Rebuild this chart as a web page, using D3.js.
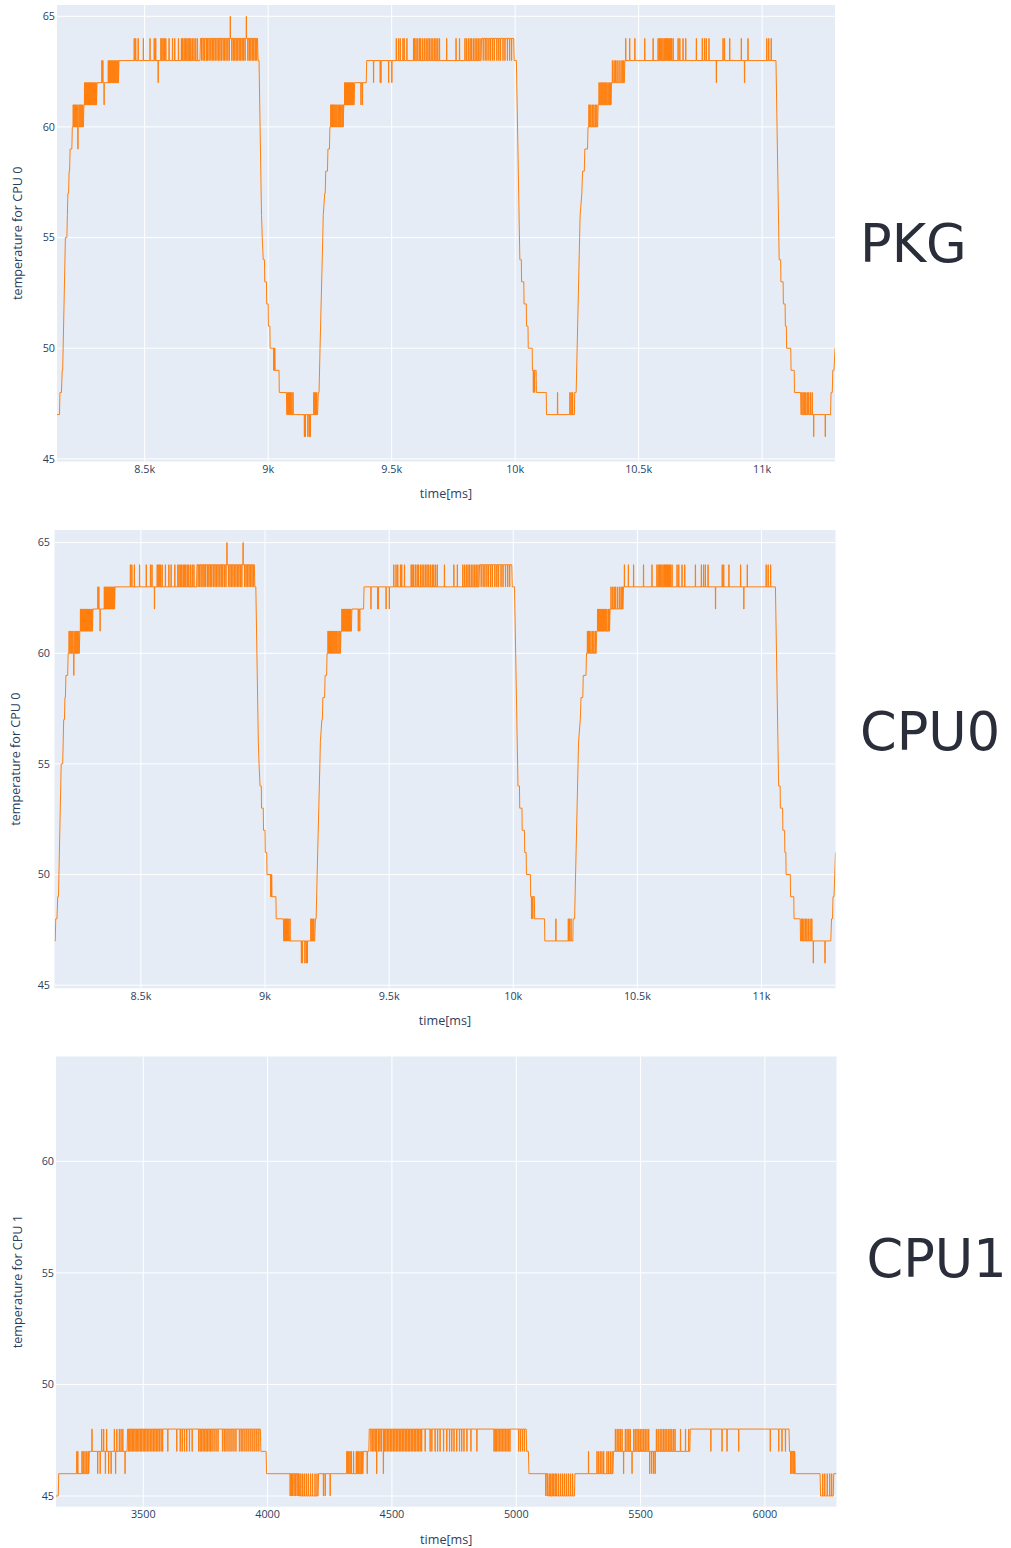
<!DOCTYPE html>
<html>
<head>
<meta charset="utf-8">
<script src="https://cdn.jsdelivr.net/npm/d3@7"></script>
<style>
  body { margin: 0; background: #fff; }
  svg { display: block; }
</style>
</head>
<body>
<div id="chart"></div>
<script>
/* Daten: Stufen der Grundlinie [Zeit ms, Temperatur], dazu kurze Ausreisser (+1 / -1) */

var pkgBase = [[8145,47],[8155,47],[8157,48],[8163,48],[8166,49],[8168,49],[8179,55],[8185,55],[8187,56],[8189,57],[8192,57],[8194,58],[8196,58],[8198,59],[8205,59],[8207,60],[8252,60],[8254,61],[8305,61],[8307,62],[8394,62],[8396,63],[8724,63],[8726,64],[8957,64],[8959,63],[8963,63],[8973,56],[8976,55],[8980,54],[8985,54],[8986,53],[8993,53],[8994,52],[9000,52],[9001,51],[9007,51],[9008,50],[9027,50],[9028,49],[9044,49],[9045,48],[9074,48],[9075,47],[9200,47],[9203,48],[9206,48],[9210,50],[9221,55],[9223,56],[9229,57],[9231,57],[9233,58],[9240,58],[9242,59],[9248,59],[9250,60],[9304,60],[9306,61],[9348,61],[9350,62],[9397,62],[9399,63],[9862,63],[9864,64],[9994,64],[9996,63],[10005,63],[10019,54],[10025,54],[10026,53],[10035,53],[10036,52],[10045,52],[10046,51],[10052,51],[10053,50],[10069,50],[10070,49],[10085,49],[10086,48],[10126,48],[10127,47],[10240,47],[10241,48],[10247,48],[10261,55],[10263,56],[10270,57],[10273,58],[10280,58],[10282,59],[10293,59],[10295,60],[10334,60],[10336,61],[10388,61],[10390,62],[10442,62],[10444,63],[11056,63],[11069,54],[11075,54],[11076,53],[11085,53],[11086,52],[11093,52],[11094,51],[11098,51],[11099,50],[11116,50],[11117,49],[11130,49],[11131,48],[11156,48],[11157,47],[11277,47],[11279,48],[11284,48],[11286,49],[11291,49],[11295,50]];

var cpu0Base = [[8152,47],[8155,47],[8157,48],[8162,48],[8165,49],[8168,49],[8179,55],[8185,55],[8187,56],[8189,57],[8192,57],[8194,58],[8196,58],[8198,59],[8205,59],[8207,60],[8252,60],[8254,61],[8305,61],[8307,62],[8394,62],[8396,63],[8724,63],[8726,64],[8957,64],[8959,63],[8963,63],[8973,56],[8976,55],[8980,54],[8985,54],[8986,53],[8993,53],[8994,52],[9000,52],[9001,51],[9007,51],[9008,50],[9027,50],[9028,49],[9044,49],[9045,48],[9074,48],[9075,47],[9200,47],[9203,48],[9206,48],[9210,50],[9221,55],[9223,56],[9229,57],[9231,57],[9233,58],[9240,58],[9242,59],[9248,59],[9250,60],[9304,60],[9306,61],[9348,61],[9350,62],[9397,62],[9399,63],[9862,63],[9864,64],[9994,64],[9996,63],[10005,63],[10019,54],[10025,54],[10026,53],[10035,53],[10036,52],[10045,52],[10046,51],[10052,51],[10053,50],[10069,50],[10070,49],[10085,49],[10086,48],[10126,48],[10127,47],[10240,47],[10241,48],[10247,48],[10261,55],[10263,56],[10270,57],[10273,58],[10280,58],[10282,59],[10293,59],[10295,60],[10334,60],[10336,61],[10388,61],[10390,62],[10442,62],[10444,63],[11056,63],[11069,54],[11075,54],[11076,53],[11085,53],[11086,52],[11093,52],[11094,51],[11098,51],[11099,50],[11116,50],[11117,49],[11130,49],[11131,48],[11156,48],[11157,47],[11279,47],[11282,48],[11286,48],[11288,49],[11292,49],[11298,51]];

var pkgUps = [8210,8214,8218,8222,8226,8233,8237,8241,8245,8249,
  8256,8259,8262,8265,8268,8271,8274,8277,8280,8283,8286,8289,8292,8296,8300,8303,
  8326,8330,8352,8356,8360,8364,8368,8372,8376,8380,8384,8388,8392,
  8457,8463,8473,8494,8521,8538,8544,8565,8569,8574,8579,8585,8598,8612,8621,8636,8648,8653,8659,8664,8670,8675,8680,8686,8692,8699,8706,8713,
  8846,8911,
  9078,9082,9086,9090,9095,9100,9184,9188,9192,9196,
  9253,9256,9259,9262,9266,9270,9274,9278,9283,9288,9293,9298,9302,
  9309,9312,9315,9318,9321,9324,9327,9330,9333,9336,9339,9342,9345,
  9518,9527,9534,9545,9550,9561,9588,9592,9598,9605,9612,9617,9625,9632,9639,9646,9652,9659,9666,9673,9679,9686,9693,9722,9760,9774,9796,9803,9810,9817,9823,9830,9837,9844,9850,9857,
  10171,10221,10226,10232,
  10298,10302,10306,10312,10318,10324,10330,
  10339,10343,10347,10351,10355,10359,10363,10367,10371,10376,10382,10386,
  10393,10400,10406,10412,10420,10428,10434,10439,
  10447,10463,10484,10524,10558,10578,10583,10588,10593,10598,10603,10608,10612,10616,10620,10625,10629,10633,10639,10659,10666,10679,10690,10733,10757,10766,10773,10784,10841,10847,10868,10915,10942,11018,11026,11036,
  11160,11165,11170,11176,11182,11188,11195,11202];

var pkgDowns = [8229,8335,8554,
  8730,8736,8742,8749,8754,8760,8767,8773,8779,8785,8792,8798,8804,8810,8817,8823,8829,8836,8842,8852,8858,8864,8870,8876,8882,8888,8894,8900,8906,8917,8923,8929,8935,8941,8947,8953,
  9022,9025,9146,9150,9160,9166,9170,9375,9381,9426,9453,9456,9487,9500,
  9870,9878,9885,9893,9900,9908,9915,9925,9933,9940,9950,9958,9968,9977,9985,
  10073,10078,10814,10928,11208,11255];

var cpu1Base = [[3149,45],[3158,45],[3160,46],[3281,46],[3283,47],[3435,47],[3437,48],[3971,48],[3973,47],[3994,47],[3996,46],[4127,46],[4128,45],[4203,45],[4205,46],[4383,46],[4385,47],[4407,47],[4409,48],[5040,48],[5042,47],[5049,47],[5051,46],[5126,46],[5128,45],[5234,45],[5236,46],[5389,46],[5391,47],[5698,47],[5700,48],[6097,48],[6099,47],[6120,47],[6122,46],[6222,46],[6224,45],[6275,45],[6277,46],[6288,46]];

var cpu1Ups = [3232,3236,3253,3258,3265,3272,3278,
  3293,3332,3340,3352,3383,3393,3403,3410,3417,
  4133,4140,4147,4155,4163,4172,4180,4190,4198,
  4318,4322,4326,4331,4336,4345,4356,4361,4366,4371,4376,4381,
  5132,5138,5144,5150,5156,5162,5170,5178,5186,5194,5202,5210,5218,5226,
  5290,5324,5330,5337,5344,5351,5364,5371,5378,5385,
  5398,5405,5412,5418,5425,5438,5445,5452,5458,5472,5478,5485,5492,5498,5505,5512,5518,5525,5532,5563,5570,5578,5585,5592,5598,5605,5612,5618,5625,5632,5638,5660,5680,5693,
  6232,6240,6250,6260,6268];

var cpu1Downs = [3316,3326,3347,3360,3370,3388,3426,
  3440,3445,3450,3455,3460,3466,3471,3477,3482,3488,3493,3499,3505,3510,3516,3522,3528,3534,3540,3546,3552,3558,3564,3571,3577,
  3598,3634,3648,3656,3665,3674,3685,3696,
  3722,3728,3734,3740,3746,3752,3758,3764,3770,3776,3784,3792,3800,3818,3825,3832,3840,3848,3856,3864,3872,3886,3893,3900,3908,3916,3924,3932,3940,3948,3956,3964,
  4090,4095,4100,4106,4112,4118,4124,4224,4231,4251,4400,
  4415,4421,4427,4433,4445,4451,4457,4469,4475,4481,4487,4493,4499,4505,4511,4517,4523,4529,4535,4541,4547,4553,4559,4565,4571,4577,4583,4589,4595,4601,4607,4613,4619,
  4633,4653,4660,4673,4683,4693,4707,4720,4731,4740,4749,4760,4771,4780,4789,4801,4817,4841,
  4910,4915,4920,4926,4932,4938,4944,4950,4956,4962,4968,4974,5009,5016,5024,5032,
  5118,5124,5431,5465,5536,5544,5552,5558,
  5782,5827,5847,5894,6021,6055,6068,6082,6103,6108,6113,6118];

var cpu1Odd = [[4438,46],[4465,46]];

var kTicks = [8500, 9000, 9500, 10000, 10500, 11000];
var msTicks = [3500, 4000, 4500, 5000, 5500, 6000];
var tempTicks = [45, 50, 55, 60, 65];

/* Serie aus Grundlinie und Ausreissern zusammensetzen */
function buildSeries(base, ups, downs, odd) {
  var lvl = d3.scaleLinear().domain(base.map(function(d){return d[0];})).range(base.map(function(d){return d[1];}));
  var pts = base.map(function(d){return [d[0], d[1]];});
  function spike(t, v) {
    var b = lvl(t);
    pts.push([t, b], [t + 0.3, v], [t + 1.2, v], [t + 1.5, b]);
  }
  ups.forEach(function(t){ spike(t, Math.round(lvl(t)) + 1); });
  downs.forEach(function(t){ spike(t, Math.round(lvl(t)) - 1); });
  odd.forEach(function(d){ spike(d[0], d[1]); });
  return pts.sort(function(a, b){ return a[0] - b[0]; });
}

var panels = [
  {name: "PKG", data: buildSeries(pkgBase, pkgUps, pkgDowns, []), xDomain: [8145, 11295], yDomain: [44.88, 65.51],
   xTicks: kTicks, fmt: d3.format("~s"), ytitle: "temperature for CPU 0",
   l: 57, r: 835, t: 5, b: 461.5, labelX: 55, ytitleX: 18, titleX: 860, titleY: 261.5},
  {name: "CPU0", data: buildSeries(cpu0Base, pkgUps, pkgDowns, []), xDomain: [8152, 11298], yDomain: [44.86, 65.57],
   xTicks: kTicks, fmt: d3.format("~s"), ytitle: "temperature for CPU 0",
   l: 54.5, r: 835.5, t: 530, b: 988.3, labelX: 50, ytitleX: 16, titleX: 860, titleY: 750},
  {name: "CPU1", data: buildSeries(cpu1Base, cpu1Ups, cpu1Downs, cpu1Odd), xDomain: [3149, 6288], yDomain: [44.52, 64.7],
   xTicks: msTicks, fmt: d3.format("d"), ytitle: "temperature for CPU 1",
   l: 56, r: 836.5, t: 1056.5, b: 1506.7, labelX: 54, ytitleX: 17.5, titleX: 866.5, titleY: 1277}
];

var svg = d3.select("#chart").append("svg").attr("width", 1011).attr("height", 1548);
svg.append("rect").attr("width", 1011).attr("height", 1548).attr("fill", "white");

var tickColor = "#2a3f5f";
var font = "'Open Sans', verdana, arial, sans-serif";

panels.forEach(function(p, i) {
  var x = d3.scaleLinear().domain(p.xDomain).range([p.l, p.r]);
  var y = d3.scaleLinear().domain(p.yDomain).range([p.b, p.t]);
  var g = svg.append("g");

  g.append("rect").attr("x", p.l).attr("y", p.t).attr("width", p.r - p.l).attr("height", p.b - p.t).attr("fill", "#E5ECF6");

  /* Gitter */
  var yt = tempTicks.filter(function(v){ return v >= p.yDomain[0] && v <= p.yDomain[1]; });
  g.append("g").selectAll("line").data(yt).enter().append("line")
    .attr("x1", p.l).attr("x2", p.r).attr("y1", function(d){return y(d);}).attr("y2", function(d){return y(d);})
    .attr("stroke", "white").attr("stroke-width", 1);
  g.append("g").selectAll("line").data(p.xTicks).enter().append("line")
    .attr("y1", p.t).attr("y2", p.b).attr("x1", function(d){return x(d);}).attr("x2", function(d){return x(d);})
    .attr("stroke", "white").attr("stroke-width", 1);

  /* Beschriftung */
  g.append("g").selectAll("text").data(yt).enter().append("text")
    .attr("x", p.labelX).attr("y", function(d){return y(d);}).attr("dy", "0.35em")
    .attr("text-anchor", "end").attr("font-family", font).attr("font-size", "10.8px").attr("fill", tickColor)
    .text(function(d){return d;});
  g.append("g").selectAll("text").data(p.xTicks).enter().append("text")
    .attr("x", function(d){return x(d);}).attr("y", p.b + 8).attr("dy", "0.35em")
    .attr("text-anchor", "middle").attr("font-family", font).attr("font-size", "10.8px").attr("fill", tickColor)
    .text(function(d){return p.fmt(d);});
  g.append("text").attr("x", (p.l + p.r) / 2).attr("y", p.b + 32.5).attr("dy", "0.35em")
    .attr("text-anchor", "middle").attr("font-family", font).attr("font-size", "12.6px").attr("fill", tickColor)
    .text("time[ms]");
  g.append("text").attr("transform", "translate(" + p.ytitleX + "," + ((p.t + p.b) / 2) + ") rotate(-90)").attr("dy", "0.35em")
    .attr("text-anchor", "middle").attr("font-family", font).attr("font-size", "12.6px").attr("fill", tickColor)
    .text(p.ytitle);

  /* Linie */
  var clipId = "clip" + i;
  svg.append("clipPath").attr("id", clipId).append("rect")
    .attr("x", p.l).attr("y", p.t).attr("width", p.r - p.l).attr("height", p.b - p.t);
  var line = d3.line().x(function(d){return x(d[0]);}).y(function(d){return y(d[1]);});
  g.append("path").datum(p.data).attr("clip-path", "url(#" + clipId + ")")
    .attr("d", line).attr("fill", "none").attr("stroke", "#ff7f0e").attr("stroke-width", 1)
    .attr("stroke-linejoin", "round");

  /* Titel rechts */
  g.append("text").attr("x", p.titleX).attr("y", p.titleY)
    .attr("font-family", "'DejaVu Sans', sans-serif").attr("font-size", "52.5px").attr("fill", "#2a2d3a")
    .text(p.name);
});
</script>
</body>
</html>
